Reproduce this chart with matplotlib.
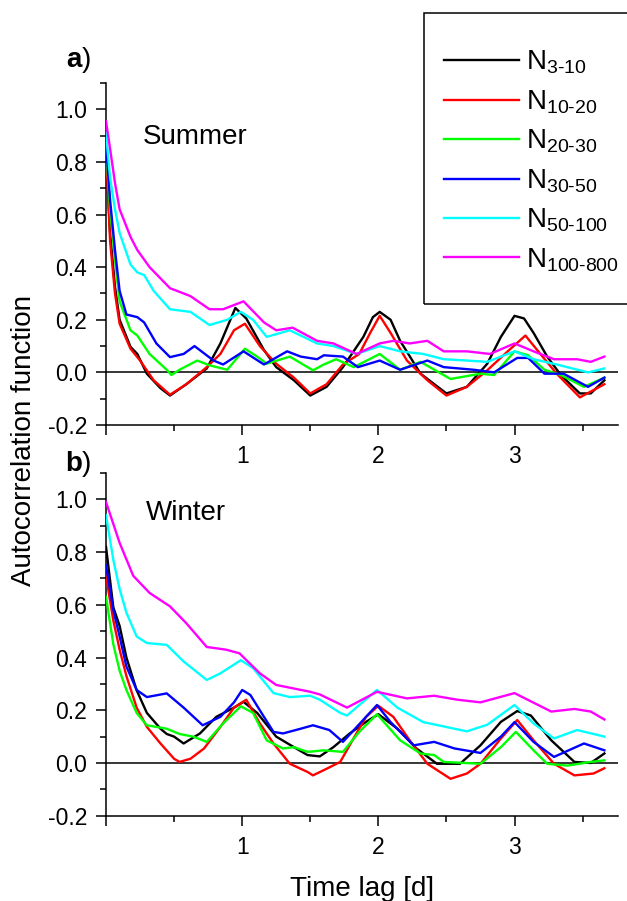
import matplotlib
matplotlib.use("Agg")
import matplotlib.pyplot as plt
from matplotlib.ticker import FixedLocator, MultipleLocator, FixedFormatter
from matplotlib.patches import Rectangle
from matplotlib.lines import Line2D

plt.rcParams['font.family'] = ['Liberation Sans', 'DejaVu Sans']
plt.rcParams['mathtext.fontset'] = 'custom'
plt.rcParams['mathtext.rm'] = 'Liberation Sans'
plt.rcParams['mathtext.it'] = 'Liberation Sans:italic'
plt.rcParams['mathtext.bf'] = 'Liberation Sans:bold'
plt.rcParams['axes.unicode_minus'] = False

# ---------------- data ----------------
series_names = ["3-10", "10-20", "20-30", "30-50", "50-100", "100-800"]
series_colors = ["#000000", "#FF0000", "#00FF00", "#0000FF", "#00FFFF", "#FF00FF"]

# Summer
su_t_n3 = [0, 0.03, 0.066, 0.1, 0.18, 0.23, 0.30, 0.40, 0.47, 0.59, 0.74, 0.84, 0.95, 1.03, 1.16, 1.25, 1.38, 1.50,
           1.62, 1.74, 1.89, 1.96, 2.01, 2.09, 2.16, 2.31, 2.50, 2.65, 2.80, 2.90, 3.00, 3.07, 3.14, 3.24, 3.34, 3.48,
           3.56, 3.66]
su_v_n3 = [0.83, 0.53, 0.325, 0.20, 0.097, 0.07, -0.005, -0.06, -0.088, -0.045, 0.015, 0.11, 0.245, 0.205, 0.085,
           0.02, -0.03, -0.088, -0.055, 0.02, 0.135, 0.21, 0.23, 0.20, 0.12, -0.005, -0.08, -0.055, 0.033, 0.135,
           0.215, 0.205, 0.15, 0.06, -0.01, -0.08, -0.08, -0.03]

su_t_n10 = [0, 0.03, 0.066, 0.1, 0.18, 0.25, 0.35, 0.47, 0.59, 0.74, 0.84, 0.94, 1.02, 1.13, 1.25, 1.38, 1.50, 1.62,
            1.74, 1.86, 1.94, 2.01, 2.09, 2.21, 2.36, 2.50, 2.65, 2.80, 2.95, 3.08, 3.19, 3.31, 3.48, 3.66]
su_v_n10 = [0.85, 0.50, 0.30, 0.185, 0.09, 0.045, -0.03, -0.085, -0.045, 0.02, 0.07, 0.16, 0.185, 0.10, 0.033,
            -0.02, -0.08, -0.045, 0.03, 0.07, 0.15, 0.215, 0.15, 0.045, -0.03, -0.088, -0.055, 0.008, 0.08, 0.14,
            0.07, -0.005, -0.095, -0.045]

su_t_n20 = [0, 0.03, 0.066, 0.1, 0.18, 0.23, 0.32, 0.45, 0.48, 0.54, 0.67, 0.76, 0.89, 1.02, 1.11, 1.18, 1.35, 1.48,
            1.52, 1.60, 1.69, 1.82, 2.01, 2.16, 2.31, 2.53, 2.75, 2.85, 3.0, 3.10, 3.22, 3.34, 3.51, 3.66]
su_v_n20 = [0.86, 0.62, 0.43, 0.27, 0.16, 0.14, 0.07, 0.008, -0.01, 0.01, 0.045, 0.027, 0.01, 0.09, 0.06, 0.033,
            0.06, 0.02, 0.008, 0.03, 0.05, 0.02, 0.07, 0.01, 0.04, -0.025, -0.005, -0.01, 0.08, 0.065, 0.01, -0.01,
            -0.055, -0.02]

su_t_n30 = [0, 0.03, 0.066, 0.1, 0.15, 0.23, 0.28, 0.37, 0.47, 0.57, 0.65, 0.79, 0.86, 1.01, 1.16, 1.33, 1.43, 1.55,
            1.60, 1.74, 1.85, 2.01, 2.16, 2.36, 2.48, 2.70, 2.85, 3.02, 3.10, 3.22, 3.36, 3.54, 3.66]
su_v_n30 = [0.87, 0.655, 0.465, 0.31, 0.22, 0.21, 0.19, 0.11, 0.058, 0.07, 0.10, 0.045, 0.03, 0.08, 0.03, 0.08,
            0.06, 0.05, 0.065, 0.06, 0.02, 0.045, 0.01, 0.045, 0.02, 0.01, 0.0, 0.055, 0.055, -0.005, -0.005,
            -0.055, -0.02]

su_t_n50 = [0, 0.03, 0.066, 0.1, 0.18, 0.23, 0.28, 0.35, 0.47, 0.62, 0.76, 0.89, 0.99, 1.08, 1.18, 1.35, 1.43, 1.55,
            1.67, 1.84, 2.01, 2.16, 2.33, 2.48, 2.65, 2.80, 3.0, 3.14, 3.31, 3.54, 3.66]
su_v_n50 = [0.91, 0.74, 0.62, 0.53, 0.41, 0.38, 0.37, 0.31, 0.24, 0.23, 0.18, 0.20, 0.23, 0.20, 0.135, 0.16, 0.14,
            0.11, 0.10, 0.07, 0.10, 0.08, 0.07, 0.05, 0.045, 0.04, 0.08, 0.05, 0.03, 0.0, 0.015]

su_t_n100 = [0, 0.03, 0.066, 0.1, 0.18, 0.23, 0.32, 0.47, 0.62, 0.76, 0.86, 1.01, 1.16, 1.25, 1.37, 1.55, 1.67, 1.84,
             2.01, 2.11, 2.23, 2.36, 2.48, 2.65, 2.82, 3.0, 3.14, 3.29, 3.46, 3.56, 3.66]
su_v_n100 = [0.955, 0.85, 0.72, 0.62, 0.515, 0.465, 0.40, 0.32, 0.29, 0.24, 0.24, 0.27, 0.19, 0.16, 0.17, 0.12,
             0.11, 0.07, 0.11, 0.12, 0.11, 0.12, 0.08, 0.08, 0.07, 0.11, 0.08, 0.05, 0.05, 0.04, 0.06]

# Winter
wi_t_n3 = [0, 0.054, 0.1, 0.15, 0.225, 0.30, 0.40, 0.446, 0.50, 0.57, 0.69, 0.81, 0.94, 1.01, 1.11, 1.25, 1.38,
           1.48, 1.57, 1.67, 1.79, 1.91, 2.0, 2.14, 2.28, 2.43, 2.60, 2.75, 2.90, 3.02, 3.12, 3.27, 3.44, 3.56, 3.66]
wi_v_n3 = [0.82, 0.59, 0.52, 0.40, 0.276, 0.19, 0.13, 0.11, 0.10, 0.074, 0.112, 0.175, 0.21, 0.232, 0.19, 0.10,
           0.06, 0.03, 0.025, 0.06, 0.112, 0.156, 0.185, 0.13, 0.055, -0.003, -0.003, 0.067, 0.156, 0.197, 0.18,
           0.086, 0.004, 0.0, 0.036]

wi_t_n10 = [0, 0.054, 0.1, 0.15, 0.225, 0.30, 0.40, 0.50, 0.54, 0.62, 0.72, 0.84, 0.94, 1.03, 1.13, 1.23, 1.35,
            1.48, 1.52, 1.62, 1.72, 1.81, 1.91, 2.0, 2.11, 2.23, 2.36, 2.53, 2.65, 2.75, 2.90, 3.02, 3.14, 3.29,
            3.44, 3.58, 3.66]
wi_v_n10 = [0.71, 0.54, 0.43, 0.33, 0.21, 0.137, 0.074, 0.016, 0.004, 0.016, 0.055, 0.137, 0.21, 0.24, 0.15,
            0.074, -0.003, -0.034, -0.047, -0.022, 0.004, 0.086, 0.175, 0.217, 0.175, 0.086, -0.003, -0.06, -0.04,
            -0.003, 0.093, 0.163, 0.086, -0.003, -0.047, -0.04, -0.02]

wi_t_n20 = [0, 0.054, 0.1, 0.15, 0.225, 0.30, 0.446, 0.54, 0.64, 0.74, 0.86, 0.99, 1.08, 1.18, 1.30, 1.38, 1.48,
            1.60, 1.74, 1.86, 1.99, 2.16, 2.31, 2.41, 2.48, 2.75, 2.90, 3.01, 3.14, 3.24, 3.39, 3.56, 3.66]
wi_v_n20 = [0.63, 0.45, 0.35, 0.277, 0.19, 0.143, 0.13, 0.11, 0.10, 0.08, 0.15, 0.215, 0.19, 0.086, 0.055, 0.06,
            0.042, 0.048, 0.042, 0.118, 0.185, 0.086, 0.036, 0.03, 0.004, -0.003, 0.06, 0.118, 0.048, -0.003, -0.01,
            0.004, 0.01]

wi_t_n30 = [0, 0.054, 0.1, 0.15, 0.225, 0.30, 0.446, 0.57, 0.71, 0.84, 0.94, 1.0, 1.06, 1.16, 1.23, 1.30, 1.43,
            1.52, 1.64, 1.74, 1.99, 2.09, 2.26, 2.41, 2.56, 2.75, 2.90, 3.0, 3.14, 3.29, 3.51, 3.66]
wi_v_n30 = [0.75, 0.58, 0.48, 0.366, 0.277, 0.25, 0.264, 0.21, 0.143, 0.175, 0.23, 0.277, 0.258, 0.175, 0.118,
            0.112, 0.13, 0.143, 0.125, 0.08, 0.22, 0.155, 0.067, 0.08, 0.055, 0.038, 0.10, 0.155, 0.08, 0.023,
            0.074, 0.048]

wi_t_n50 = [0, 0.054, 0.1, 0.15, 0.225, 0.30, 0.446, 0.57, 0.74, 0.84, 0.99, 1.08, 1.23, 1.35, 1.50, 1.57, 1.72,
            1.77, 1.99, 2.14, 2.33, 2.65, 2.80, 3.0, 3.14, 3.29, 3.46, 3.66]
wi_v_n50 = [0.94, 0.77, 0.66, 0.57, 0.48, 0.455, 0.448, 0.385, 0.315, 0.34, 0.39, 0.36, 0.265, 0.25, 0.255, 0.24,
            0.19, 0.18, 0.277, 0.21, 0.155, 0.12, 0.145, 0.22, 0.15, 0.093, 0.125, 0.10]

wi_t_n100 = [0, 0.1, 0.2, 0.32, 0.47, 0.59, 0.74, 0.88, 0.98, 1.13, 1.25, 1.50, 1.57, 1.77, 1.99, 2.21, 2.41, 2.58,
             2.75, 3.0, 3.27, 3.44, 3.56, 3.66]
wi_v_n100 = [0.99, 0.835, 0.71, 0.645, 0.594, 0.53, 0.44, 0.43, 0.416, 0.34, 0.296, 0.27, 0.26, 0.21, 0.27, 0.245,
             0.255, 0.24, 0.23, 0.265, 0.195, 0.205, 0.195, 0.165]

summer_t = [su_t_n3, su_t_n10, su_t_n20, su_t_n30, su_t_n50, su_t_n100]
summer_v = [su_v_n3, su_v_n10, su_v_n20, su_v_n30, su_v_n50, su_v_n100]
winter_t = [wi_t_n3, wi_t_n10, wi_t_n20, wi_t_n30, wi_t_n50, wi_t_n100]
winter_v = [wi_v_n3, wi_v_n10, wi_v_n20, wi_v_n30, wi_v_n50, wi_v_n100]

x_ticks = [0, 1, 2, 3]
x_ticklabels = ["", "1", "2", "3"]
y_ticks = [-0.2, 0.0, 0.2, 0.4, 0.6, 0.8, 1.0]
y_ticklabels = ["-0.2", "0.0", "0.2", "0.4", "0.6", "0.8", "1.0"]

# ---------------- figure ----------------
W, H = 627, 901
fig = plt.figure(figsize=(W / 100, H / 100), dpi=100)


def fx(x):
    return x / W


def fy(y):
    return 1 - y / H


def make_axes(top_px, bottom_px):
    ax = fig.add_axes([fx(106), fy(bottom_px), fx(618) - fx(106), fy(top_px) - fy(bottom_px)])
    ax.set_xlim(0, 3.76)
    ax.set_ylim(-0.2, 1.1)
    for s in ["top", "right"]:
        ax.spines[s].set_visible(False)
    for s in ["left", "bottom"]:
        ax.spines[s].set_linewidth(1.1)
    ax.xaxis.set_major_locator(FixedLocator(x_ticks))
    ax.xaxis.set_major_formatter(FixedFormatter(x_ticklabels))
    ax.xaxis.set_minor_locator(MultipleLocator(0.5))
    ax.yaxis.set_major_locator(FixedLocator(y_ticks))
    ax.yaxis.set_major_formatter(FixedFormatter(y_ticklabels))
    ax.yaxis.set_minor_locator(MultipleLocator(0.1))
    ax.tick_params(which="major", direction="out", length=7.5, width=1.1, labelsize=16.5, pad=6)
    ax.tick_params(which="minor", direction="out", length=4, width=1.1)
    ax.tick_params(axis="x", which="major", pad=7)
    ax.axhline(0, color="k", lw=1.1, zorder=1)
    return ax


ax1 = make_axes(83, 425)
ax2 = make_axes(473, 815.7)

for t, v, c in zip(summer_t, summer_v, series_colors):
    ax1.plot(t, v, color=c, lw=1.7, zorder=3)
for t, v, c in zip(winter_t, winter_v, series_colors):
    ax2.plot(t, v, color=c, lw=1.7, zorder=3)

fig.text(fx(143), fy(144), "Summer", fontsize=20, ha="left", va="baseline")
fig.text(fx(146), fy(520), "Winter", fontsize=20, ha="left", va="baseline")
fig.text(fx(66), fy(67), r"$\mathbf{a}$)", fontsize=20, ha="left", va="baseline")
fig.text(fx(65), fy(471), r"$\mathbf{b}$)", fontsize=20, ha="left", va="baseline")

fig.text(fx(24), fy(440), "Autocorrelation function", fontsize=20, rotation=90, ha="center", va="center")
fig.text(fx(362), fy(896), "Time lag [d]", fontsize=20, ha="center", va="baseline")

# legend box
rect = Rectangle((fx(424), fy(304)), 1.02 - fx(424), fy(13) - fy(304), transform=fig.transFigure,
                 fill=False, edgecolor="k", lw=1.1, clip_on=False)
fig.patches.append(rect)

handles = [Line2D([], [], color=c, lw=1.7) for c in series_colors]
labels = [r"$\mathrm{N}_{\text{%s}}$" % n for n in series_names]
fig.legend(handles, labels, loc="upper left", bbox_to_anchor=(fx(444), fy(49)), bbox_transform=fig.transFigure,
           frameon=False, borderpad=0, borderaxespad=0, handlelength=2.7, handletextpad=0.25,
           labelspacing=0.43, fontsize=20)

fig.savefig("out.png", dpi=100)
